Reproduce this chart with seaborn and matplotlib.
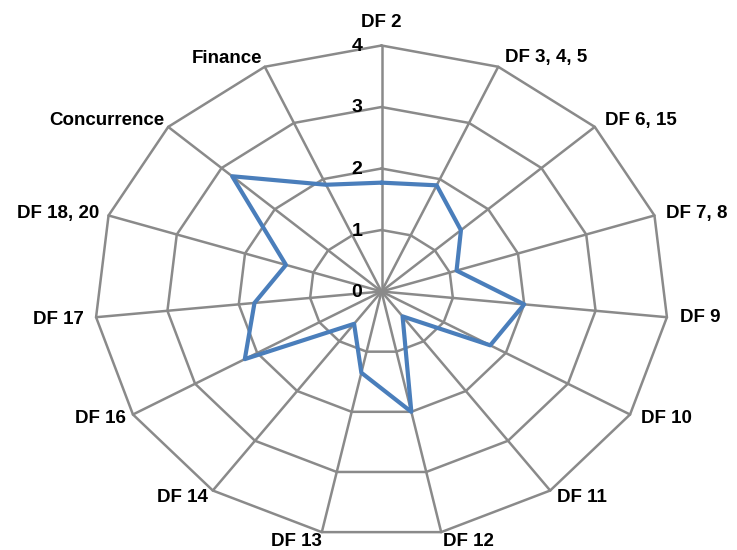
import numpy as np
import pandas as pd
import matplotlib
matplotlib.use("Agg")
import matplotlib.pyplot as plt
import seaborn as sns

# Radar data: one score per criterion, clockwise from the top
categories = ["DF 2", "DF 3, 4, 5", "DF 6, 15", "DF 7, 8", "DF 9", "DF 10",
              "DF 11", "DF 12", "DF 13", "DF 14", "DF 16", "DF 17",
              "DF 18, 20", "Concurrence", "Finance"]
scores = [1.77, 1.89, 1.49, 1.1, 2.0, 1.75, 0.5, 2.0, 1.35, 0.65,
          2.2, 1.78, 1.4, 2.8, 1.9]
ring_levels = [0, 1, 2, 3, 4]
ring_labels = ["0", "1", "2", "3", "4"]

sns.set_style("white")
plt.rcParams["font.family"] = ["Liberation Sans", "DejaVu Sans"]

W, H = 737, 550
CX, CY = 381.5, 291.5          # centre of the web in pixels
UX, UY = 71.75, 61.5           # pixels per unit, horizontal / vertical

fig = plt.figure(figsize=(W / 100, H / 100), dpi=100)
ax = fig.add_axes([0, 0, 1, 1])
ax.set_xlim(-CX / UX, (W - CX) / UX)
ax.set_ylim(-(H - CY) / UY, CY / UY)
ax.axis("off")

n = len(categories)
theta = np.arange(n) * 2 * np.pi / n
sx, sy = np.sin(theta), np.cos(theta)
rmax = max(ring_levels)

grid_col = "#8a8a8a"
# concentric rings
for lvl in ring_levels[1:]:
    ax.plot(np.append(sx, sx[0]) * lvl, np.append(sy, sy[0]) * lvl,
            color=grid_col, lw=1.8, zorder=1, solid_joinstyle="miter")
# spokes
for i in range(n):
    ax.plot([0, sx[i] * rmax], [0, sy[i] * rmax], color=grid_col, lw=1.8, zorder=1)

# data polygon
vals = np.array(scores)
df = pd.DataFrame({"x": np.append(vals * sx, vals[0] * sx[0]),
                   "y": np.append(vals * sy, vals[0] * sy[0])})
sns.lineplot(data=df, x="x", y="y", sort=False, estimator=None, ax=ax,
             color="#4a7ebb", lw=3.0, zorder=3)
ax.set_xlabel("")
ax.set_ylabel("")

FS = 13.5
# radial tick labels along the top spoke
for lvl, lab in zip(ring_levels, ring_labels):
    ax.annotate(lab, xy=(0, lvl), xytext=(-19, -1), textcoords="offset pixels",
                ha="right", va="center", fontsize=FS + 0.5, fontweight="bold",
                color="black", zorder=5)

# category labels: (ha, dx, dy) in pixels from each outer vertex
label_pos = {
    "DF 2": ("center", 0, 23),
    "DF 3, 4, 5": ("left", 7, 9),
    "DF 6, 15": ("left", 10, 6),
    "DF 7, 8": ("left", 12, 2),
    "DF 9": ("left", 13, 0),
    "DF 10": ("left", 11, -4),
    "DF 11": ("left", 7, -7),
    "DF 12": ("left", 2, -9),
    "DF 13": ("right", 0, -9),
    "DF 14": ("right", -5, -7),
    "DF 16": ("right", -7, -4),
    "DF 17": ("right", -12, -2),
    "DF 18, 20": ("right", -9, 2),
    "Concurrence": ("right", -4, 6),
    "Finance": ("right", -3, 8),
}
for i, cat in enumerate(categories):
    ha, dx, dy = label_pos[cat]
    ax.annotate(cat, xy=(sx[i] * rmax, sy[i] * rmax), xytext=(dx, dy),
                textcoords="offset pixels", ha=ha, va="center",
                fontsize=FS, fontweight="bold", color="black", zorder=5)

fig.savefig("out.png", dpi=100, facecolor="white")
